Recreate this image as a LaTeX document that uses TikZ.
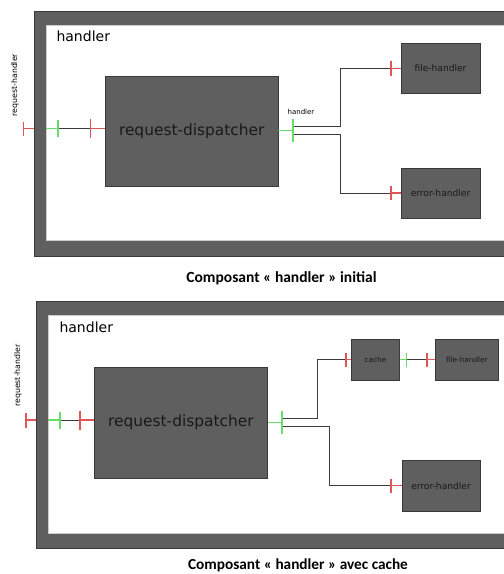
\documentclass[tikz,border=0pt]{standalone}
\usepackage{fontspec}
\setmainfont{DejaVu Sans}
\newfontfamily\capfont{Carlito}
\usetikzlibrary{positioning}

\definecolor{compgray}{HTML}{5F5F5F}
\definecolor{edgegray}{HTML}{3A3A3A}
\definecolor{reqred}{HTML}{E05555}
\definecolor{provgreen}{HTML}{66DD66}
\definecolor{wiregray}{HTML}{3C3C3C}

\tikzset{
  frame/.style={draw=edgegray, fill=compgray, line width=0.8pt, inner sep=0pt},
  inside/.style={draw=black!20, fill=white, line width=0.6pt, inner sep=0pt},
  comp/.style={draw=edgegray, fill=compgray, line width=0.7pt, inner sep=0pt, text=black!90},
  req/.style={draw=reqred, line width=1.3pt},
  prov/.style={draw=provgreen, line width=1.3pt},
  wire/.style={draw=wiregray, line width=0.7pt},
  bigtxt/.style={font=\fontsize{15.4}{18}\selectfont},
  midtxt/.style={font=\fontsize{9.1}{11}\selectfont},
  smalltxt/.style={font=\fontsize{7.3}{9}\selectfont},
}

\begin{document}
\begin{tikzpicture}[x=1pt, y=-1pt]
        \clip (0,0) rectangle (504,574);
        \fill[white] (0,0) rectangle (504,574);

        % initial handler
        \node[frame, minimum width=486pt, minimum height=245pt] at (277,133.5) (frameA) {};
        \node[inside, minimum width=473.5pt, minimum height=215pt] at (283.25,132.5) (insideA) {};
        \node[anchor=base west, font=\fontsize{14}{16}\selectfont] at (53,41.5) (titleA) {handler};
        \node[rotate=90, font=\fontsize{7.8}{9}\selectfont] at (15,85) (rhA) {request-handler};

        \node[comp, bigtxt, minimum width=172.5pt, minimum height=110pt] at (191.75,131) (dispA) {request-dispatcher};
        \node[comp, midtxt, minimum width=79pt, minimum height=50pt] at (440.5,68.5) (fileA) {file-handler};
        \node[comp, midtxt, minimum width=79pt, minimum height=49.5pt] at (440.5,193.3) (errA) {error-handler};

        \coordinate (rqA) at (23.5,128.5);
        \coordinate (gA1) at (58,128.5);
        \coordinate (rA1) at (90.5,128.5);
        \coordinate (gA2) at (293,130.5);
        \coordinate (rA2) at (391,68.5);
        \coordinate (rA3) at (391,193);
        \node[font=\fontsize{7}{8}\selectfont] at (301,112) (portA) {handler};

        \draw[req]  (rqA) -- (rqA -| frameA.west);
        \draw[prov] (gA1 -| insideA.west) -- (gA1);
        \draw[wire] (gA1) -- (rA1);
        \draw[req]  (rA1) -- (rA1 -| dispA.west);
        \draw[prov] (gA2 -| dispA.east) -- (gA2);
        \draw[wire] ([yshift=4pt]gA2) -- ++(47,0) |- (rA2);
        \draw[wire] ([yshift=-4pt]gA2) -- ++(47,0) |- (rA3);
        \draw[req]  (rA2) -- (fileA.west |- rA2);
        \draw[req]  (rA3) -- (errA.west |- rA3);

        % with cache
        \node[frame, minimum width=484pt, minimum height=247pt] at (278,425) (frameB) {};
        \node[inside, minimum width=471.5pt, minimum height=218.7pt] at (284.25,424.35) (insideB) {};
        \node[anchor=base west, font=\fontsize{14}{16}\selectfont] at (56,332) (titleB) {handler};
        \node[rotate=90, font=\fontsize{7.8}{9}\selectfont] at (18,375.5) (rhB) {request-handler};

        \node[comp, bigtxt, minimum width=172.8pt, minimum height=111pt] at (180.9,422.5) (dispB) {request-dispatcher};
        \node[comp, smalltxt, minimum width=47.8pt, minimum height=41pt] at (375.4,359.5) (cacheB) {cache};
        \node[comp, smalltxt, minimum width=63.7pt, minimum height=41pt] at (466.85,359.5) (fileB) {file-handler};
        \node[comp, midtxt, minimum width=78pt, minimum height=50.3pt] at (441,485.85) (errB) {error-handler};

        \coordinate (rqB) at (26,420);
        \coordinate (gB1) at (60,420);
        \coordinate (rB1) at (80,420);
        \coordinate (gB2) at (282,422.7);
        \coordinate (rB2) at (346,359.5);
        \coordinate (gB3) at (406.7,359.5);
        \coordinate (rB3) at (427,359.5);
        \coordinate (rB4) at (391,485.7);

        \draw[req]  (rqB) -- (rqB -| frameB.west);
        \draw[prov] (gB1 -| insideB.west) -- (gB1);
        \draw[wire] (gB1) -- (rB1);
        \draw[req]  (rB1) -- (rB1 -| dispB.west);
        \draw[prov] (gB2 -| dispB.east) -- (gB2);
        \draw[wire] ([yshift=4.7pt]gB2) -- ++(35.5,0) |- (rB2);
        \draw[wire] ([yshift=-3.6pt]gB2) -- ++(47.3,0) |- (rB4);
        \draw[req]  (rB2) -- (cacheB.west |- rB2);
        \draw[prov] (cacheB.east |- gB3) -- (gB3);
        \draw[wire] (gB3) -- (rB3);
        \draw[req]  (rB3) -- (fileB.west |- rB3);
        \draw[req]  (rB4) -- (errB.west |- rB4);

        % port ticks
        \foreach \p/\l in {rqA/14, rA1/19, rA2/15, rA3/14, rqB/15, rB1/19, rB2/14, rB3/14, rB4/14}
          \draw[req] (\p) ++(0,-\l/2) -- ++(0,\l);
        \foreach \p/\l in {gA1/17, gA2/23, gB1/17, gB2/23, gB3/14}
          \draw[prov] (\p) ++(0,-\l/2) -- ++(0,\l);

        % captions
        \node[anchor=base, font=\capfont\bfseries\fontsize{15.5}{18}\selectfont] at (281.5,282.7) (capA) {Composant « handler » initial};
        \node[anchor=base, font=\capfont\bfseries\fontsize{15.3}{18}\selectfont] at (298,569.3) (capB) {Composant « handler » avec cache};
\end{tikzpicture}
\end{document}
